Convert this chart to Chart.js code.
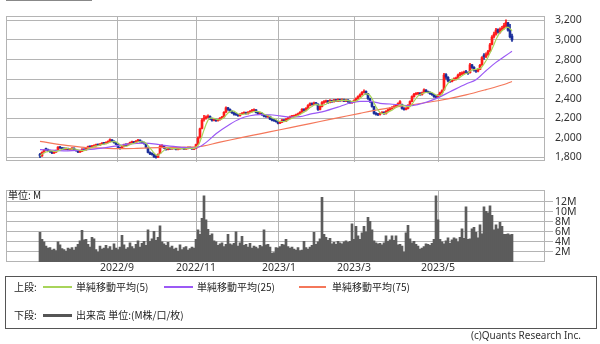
<!DOCTYPE html>
<html>
<head>
<meta charset="utf-8">
<script src="https://cdn.jsdelivr.net/npm/chart.js@4.4.0/dist/chart.umd.min.js"></script>
<style>
  body { margin: 0; width: 600px; height: 344px; overflow: hidden; position: relative; background: #fff;
         font-family: "Noto Sans CJK JP", "Noto Sans", sans-serif; color: #222; }
  canvas { position: absolute; left: 0; }
  #priceCanvas { top: 0; }
  #volCanvas { top: 182px; }
  .abs { position: absolute; white-space: nowrap; }
  #legendBox { position: absolute; left: 5px; top: 276px; width: 590px; height: 51px; border: 1px solid #555; }
  .sw { position: absolute; height: 2px; }
  .lt { position: absolute; font-size: 10px; line-height: 12px; }
</style>
</head>
<body>
<div class="abs" style="left:6px;top:0;width:86px;height:1px;background:#888"></div>
<canvas id="priceCanvas" width="600" height="178"></canvas>
<canvas id="volCanvas" width="600" height="96"></canvas>
<div class="abs" style="left:8px;top:189px;font-size:10px;line-height:12px">単位: M</div>

<div id="legendBox">
  <div class="lt" style="left:8px;top:4px">上段:</div>
  <div class="sw" style="left:37px;top:9px;width:29px;background:#a8d45a"></div>
  <div class="lt" style="left:70px;top:4px">単純移動平均(5)</div>
  <div class="sw" style="left:158px;top:9px;width:29px;background:#9b59f5"></div>
  <div class="lt" style="left:191px;top:4px">単純移動平均(25)</div>
  <div class="sw" style="left:293px;top:9px;width:27px;background:#f4775a"></div>
  <div class="lt" style="left:326px;top:4px">単純移動平均(75)</div>

  <div class="lt" style="left:8px;top:32px">下段:</div>
  <div class="sw" style="left:37px;top:37px;width:29px;height:3px;background:#555"></div>
  <div class="lt" style="left:70px;top:32px">出来高 単位:(M株/口/枚)</div>
</div>
<div class="abs" style="right:19px;top:329px;font-size:10px;line-height:12px;color:#333;font-family:'Noto Sans',sans-serif">(c)Quants Research Inc.</div>

<script>
// 日足 [始値, 高値, 安値, 終値]
const candles = [
  [1830,1840,1795,1815],[1815,1855,1810,1850],[1850,1880,1845,1875],[1885,1895,1870,1880],[1880,1885,1860,1870],[1870,1875,1850,1860],
  [1860,1862,1838,1845],[1842,1858,1840,1850],[1852,1875,1850,1870],[1875,1910,1872,1905],[1905,1912,1890,1895],[1895,1900,1882,1890],
  [1890,1898,1880,1885],[1882,1896,1878,1890],[1892,1895,1875,1880],[1878,1890,1872,1885],[1885,1900,1882,1895],[1895,1898,1875,1880],
  [1878,1882,1862,1870],[1868,1870,1848,1855],[1852,1868,1850,1860],[1860,1888,1858,1880],[1882,1886,1870,1875],[1875,1900,1872,1895],
  [1895,1915,1890,1910],[1912,1918,1900,1905],[1905,1922,1902,1915],[1912,1928,1908,1920],[1920,1935,1915,1930],[1932,1936,1920,1925],
  [1925,1940,1922,1935],[1935,1950,1930,1945],[1948,1952,1935,1940],[1940,1958,1938,1950],[1950,1968,1946,1960],[1962,1990,1958,1980],
  [1978,1982,1960,1965],[1965,1968,1945,1950],[1950,1952,1930,1935],[1930,1932,1895,1900],[1900,1905,1882,1890],[1890,1915,1888,1910],
  [1910,1935,1905,1930],[1932,1938,1920,1925],[1925,1940,1920,1935],[1935,1955,1932,1950],[1950,1966,1945,1960],[1960,1962,1940,1945],
  [1945,1970,1942,1965],[1965,1985,1960,1975],[1975,1978,1955,1960],[1962,1965,1945,1950],[1950,1955,1935,1940],[1935,1938,1895,1900],
  [1895,1898,1845,1850],[1850,1855,1828,1835],[1835,1845,1822,1830],[1830,1832,1798,1805],[1810,1820,1792,1800],[1800,1835,1798,1830],
  [1840,1925,1838,1910],[1910,1930,1902,1920],[1918,1920,1890,1895],[1895,1898,1872,1880],[1880,1895,1875,1890],[1892,1898,1880,1885],
  [1885,1900,1880,1895],[1895,1900,1885,1890],[1890,1893,1875,1880],[1878,1890,1875,1885],[1885,1900,1882,1895],[1896,1900,1885,1890],
  [1890,1894,1878,1885],[1882,1895,1880,1890],[1890,1906,1886,1900],[1902,1905,1890,1895],[1895,1898,1880,1885],[1880,1895,1878,1890],
  [1890,1935,1888,1930],[1935,2010,1930,2000],[2000,2100,1995,2090],[2095,2195,2090,2180],[2190,2230,2170,2200],[2200,2225,2190,2210],
  [2210,2235,2205,2220],[2220,2225,2185,2195],[2195,2200,2170,2180],[2178,2192,2172,2185],[2188,2190,2168,2175],[2175,2192,2170,2185],
  [2185,2205,2180,2200],[2200,2218,2195,2210],[2212,2268,2210,2260],[2262,2315,2258,2305],[2305,2310,2280,2290],[2290,2295,2262,2270],
  [2270,2275,2248,2255],[2255,2260,2232,2240],[2245,2252,2228,2235],[2235,2240,2218,2225],[2225,2248,2220,2240],[2240,2258,2235,2250],
  [2250,2265,2245,2255],[2258,2262,2240,2245],[2245,2268,2242,2260],[2260,2278,2255,2270],[2270,2290,2265,2280],[2278,2295,2272,2285],
  [2285,2288,2255,2260],[2260,2265,2238,2245],[2242,2258,2238,2250],[2250,2255,2228,2235],[2235,2240,2212,2220],[2222,2230,2208,2215],
  [2212,2228,2208,2220],[2220,2222,2185,2190],[2190,2195,2172,2180],[2182,2188,2168,2175],[2175,2180,2158,2165],[2165,2168,2142,2150],
  [2150,2168,2145,2160],[2160,2188,2155,2180],[2182,2186,2165,2170],[2170,2196,2165,2190],[2190,2208,2185,2200],[2200,2222,2195,2215],
  [2215,2228,2210,2220],[2220,2232,2215,2225],[2225,2242,2220,2235],[2235,2252,2230,2245],[2245,2268,2240,2260],[2262,2298,2258,2290],
  [2292,2296,2272,2280],[2280,2308,2275,2300],[2300,2338,2295,2330],[2330,2358,2325,2350],[2352,2356,2332,2340],[2340,2365,2335,2355],
  [2358,2362,2335,2345],[2345,2348,2280,2290],[2290,2328,2285,2320],[2320,2370,2315,2360],[2360,2380,2352,2370],[2368,2385,2362,2375],
  [2378,2382,2352,2360],[2360,2390,2355,2380],[2382,2386,2362,2370],[2370,2392,2365,2385],[2388,2392,2368,2375],[2375,2398,2370,2390],
  [2392,2396,2372,2380],[2380,2398,2375,2390],[2392,2395,2368,2375],[2375,2392,2370,2385],[2385,2390,2362,2370],[2372,2378,2352,2360],
  [2358,2372,2350,2365],[2365,2388,2360,2380],[2380,2408,2375,2400],[2400,2428,2395,2420],[2420,2448,2415,2440],[2440,2472,2435,2465],
  [2462,2490,2458,2475],[2475,2480,2442,2450],[2450,2455,2392,2400],[2400,2405,2362,2370],[2368,2372,2312,2320],[2318,2320,2240,2250],
  [2252,2258,2230,2240],[2245,2250,2225,2235],[2238,2258,2232,2250],[2250,2268,2245,2260],[2262,2265,2238,2245],[2245,2278,2240,2270],
  [2270,2292,2265,2285],[2285,2308,2280,2300],[2298,2318,2292,2310],[2310,2328,2305,2320],[2320,2338,2315,2330],[2330,2358,2325,2350],
  [2350,2380,2345,2370],[2340,2345,2292,2300],[2302,2308,2282,2290],[2290,2308,2285,2300],[2300,2338,2295,2330],[2330,2378,2325,2370],
  [2372,2428,2368,2420],[2420,2455,2415,2445],[2445,2462,2438,2450],[2448,2465,2442,2455],[2458,2462,2432,2440],[2440,2468,2435,2460],
  [2462,2500,2458,2490],[2488,2492,2462,2470],[2472,2478,2458,2465],[2465,2470,2442,2450],[2452,2458,2432,2440],[2440,2445,2412,2420],
  [2425,2432,2405,2415],[2415,2442,2410,2435],[2435,2468,2430,2460],[2460,2490,2455,2480],[2490,2660,2485,2640],[2645,2655,2600,2620],
  [2618,2625,2570,2580],[2585,2595,2565,2575],[2575,2598,2570,2590],[2590,2612,2585,2600],[2600,2620,2592,2610],[2610,2650,2605,2640],
  [2640,2668,2632,2655],[2650,2675,2645,2660],[2658,2682,2650,2670],[2675,2690,2655,2665],[2668,2675,2648,2660],[2665,2760,2660,2745],
  [2745,2752,2710,2720],[2720,2728,2680,2690],[2692,2700,2668,2680],[2680,2710,2672,2700],[2700,2752,2695,2740],[2745,2830,2740,2820],
  [2845,2860,2800,2830],[2830,2868,2820,2850],[2850,2895,2842,2880],[2885,2965,2878,2950],[2955,3045,2950,3030],[3035,3080,3020,3060],
  [3060,3120,3050,3100],[3105,3115,3070,3080],[3080,3125,3070,3110],[3110,3140,3095,3120],[3120,3170,3110,3150],[3140,3205,3130,3180],
  [3175,3180,3090,3100],[3100,3160,3020,3030],[3040,3060,2985,3000]
];

// 出来高 (M)
const volumes = [
  5.9,4.5,4.0,3.2,2.8,2.9,2.4,2.6,2.3,4.0,3.4,2.7,2.5,2.2,2.8,2.6,2.9,2.4,3.0,3.5,
  4.2,6.3,4.4,4.5,3.5,3.0,4.9,4.6,2.5,2.0,3.2,2.6,2.8,3.3,2.7,3.1,2.4,3.6,2.8,2.5,
  3.0,5.3,3.4,2.6,2.9,3.8,3.1,2.7,3.5,4.2,3.0,3.7,4.1,3.3,6.4,4.1,4.6,6.1,4.3,4.9,
  7.2,4.0,3.6,3.3,3.9,2.9,3.2,2.6,2.8,2.2,3.4,2.5,2.9,3.1,2.4,2.7,3.0,2.8,4.5,6.4,
  5.5,8.7,13.2,8.4,6.5,5.3,5.6,4.2,4.0,3.3,3.6,3.8,3.1,3.5,5.5,3.6,3.4,3.7,6.0,3.2,
  3.8,5.1,3.3,3.5,3.0,3.7,2.8,3.2,3.0,2.7,3.3,3.1,6.4,3.4,3.5,3.0,1.8,1.9,2.9,2.8,
  3.1,3.5,3.4,4.5,3.1,2.8,3.0,2.6,2.4,2.9,2.3,2.4,4.1,2.9,2.6,3.0,3.3,5.9,3.5,4.0,
  4.6,12.9,5.5,4.9,4.3,4.7,3.6,3.9,3.5,4.1,3.8,3.6,4.0,4.2,3.9,4.1,7.6,4.5,7.1,5.2,
  4.5,5.8,7.1,6.0,8.9,8.1,6.4,4.2,3.8,3.6,3.7,3.4,3.8,5.2,4.1,4.4,5.2,4.3,5.2,3.4,
  3.5,3.2,2.0,5.8,7.3,4.6,3.8,4.1,3.5,3.2,2.6,2.8,3.1,3.6,3.5,3.3,3.7,4.5,13.2,8.4,
  4.5,4.0,3.6,4.2,4.8,3.7,4.4,4.8,4.6,4.0,4.9,6.6,4.7,11.0,4.5,4.6,6.6,6.9,5.9,4.8,
  7.4,5.6,11.0,10.1,9.8,11.2,9.3,6.4,7.4,6.6,7.9,7.1,5.5,5.5,5.6,5.4,5.5
];

// 移動平均 (25日・75日) [日番号, 値]
const ma25 = [
  [0,1878],[8,1870],[14,1866],[20,1872],[25,1880],[31,1893],[39,1920],[45,1938],[52,1944],[58,1935],[62,1922],
  [70,1905],[77,1893],[80,1910],[84,1968],[88,2040],[95,2138],[100,2194],[105,2225],[110,2237],[115,2235],
  [120,2224],[125,2212],[130,2215],[135,2242],[141,2265],[150,2320],[155,2355],[160,2372],[165,2372],[170,2352],
  [175,2345],[180,2335],[185,2327],[191,2350],[198,2400],[205,2470],[213,2550],[218,2594],[223,2685],[228,2771],
  [232,2828],[236,2884]
];
const ma75 = [
  [0,1962],[14,1920],[22,1902],[31,1895],[39,1888],[47,1890],[63,1902],[78,1906],[90,1955],[100,1998],[110,2040],
  [120,2082],[130,2124],[140,2166],[150,2208],[160,2250],[171,2293],[185,2335],[199,2378],[213,2438],[223,2492],
  [232,2545],[236,2575]
];

const priceTicks = [1800, 2000, 2200, 2400, 2600, 2800, 3000, 3200];
const volTicks = [2, 4, 6, 8, 10, 12];
const monthLabels = ['2022/9', '2022/11', '2023/1', '2023/3', '2023/5'];
const monthPos = [38.5, 78, 119.5, 157, 199];

const UP = '#ff1a1a';
const DOWN = '#1a2e9a';
const GRID = '#b4b4b4';
const AXIS_FONT = { family: 'Noto Sans', size: 10.5 };

// 5日移動平均は終値から
const closes = candles.map(c => c[3]);
const ma5 = closes.map((v, i) => {
  const s = closes.slice(Math.max(0, i - 4), i + 1);
  return s.reduce((a, b) => a + b, 0) / s.length;
});
const candleColor = candles.map(c => c[3] >= c[0] ? UP : DOWN);

// 枠線
const framePlugin = {
  id: 'frame',
  beforeDatasetsDraw(chart) {
    const a = chart.chartArea, ctx = chart.ctx;
    ctx.save();
    ctx.strokeStyle = GRID;
    ctx.lineWidth = 1;
    ctx.strokeRect(Math.round(a.left) + 0.5, Math.round(a.top) + 0.5,
                   Math.round(a.right - a.left) - 1, Math.round(a.bottom - a.top) - 1);
    ctx.restore();
  }
};

function xScale(showLabels) {
  return {
    type: 'linear', min: -17, max: 252.5, offset: false,
    afterBuildTicks: s => { s.ticks = monthPos.map(v => ({ value: v })); },
    ticks: {
      display: showLabels, autoSkip: false, maxRotation: 0, padding: 0,
      color: '#333', font: AXIS_FONT,
      callback: (v, i) => monthLabels[i]
    },
    grid: { color: GRID, drawTicks: false, offset: false },
    border: { display: false },
    afterFit: s => { s.height = showLabels ? 16 : 0; }
  };
}

new Chart(document.getElementById('priceCanvas'), {
  type: 'bar',
  data: {
    datasets: [
      { type: 'line', data: ma5.map((v, i) => ({ x: i, y: v })), borderColor: '#a8d45a', borderWidth: 1.2, pointRadius: 0, order: 1 },
      { type: 'line', data: ma25.map(p => ({ x: p[0], y: p[1] })), borderColor: '#9b59f5', borderWidth: 1.2, pointRadius: 0, cubicInterpolationMode: 'monotone', order: 1 },
      { type: 'line', data: ma75.map(p => ({ x: p[0], y: p[1] })), borderColor: '#f4775a', borderWidth: 1.2, pointRadius: 0, cubicInterpolationMode: 'monotone', order: 1 },
      { data: candles.map((c, i) => ({ x: i, y: [c[2], c[1]] })), backgroundColor: candleColor, barThickness: 1, grouped: false, order: 3 },
      { data: candles.map((c, i) => ({ x: i, y: [c[0], c[3]] })), backgroundColor: candleColor, barThickness: 2, minBarLength: 1, grouped: false, order: 2 }
    ]
  },
  options: {
    responsive: false,
    animation: false,
    layout: { padding: { left: 6, top: 1, bottom: 1, right: 0 } },
    plugins: { legend: { display: false }, tooltip: { enabled: false } },
    scales: {
      x: xScale(false),
      y: {
        position: 'right', min: 1755, max: 3242,
        afterBuildTicks: s => { s.ticks = priceTicks.map(v => ({ value: v })); },
        ticks: { autoSkip: false, padding: 10, color: '#333', font: AXIS_FONT, callback: v => v.toLocaleString('en-US') },
        grid: { color: GRID, drawTicks: false },
        border: { display: false },
        afterFit: s => { s.width = 55; }
      }
    }
  },
  plugins: [framePlugin]
});

new Chart(document.getElementById('volCanvas'), {
  type: 'bar',
  data: {
    datasets: [
      { data: volumes.map((v, i) => ({ x: i, y: v })), backgroundColor: '#5c5c5c', barThickness: 2 }
    ]
  },
  options: {
    responsive: false,
    animation: false,
    layout: { padding: { left: 6, top: 6, bottom: 0, right: 0 } },
    plugins: { legend: { display: false }, tooltip: { enabled: false } },
    scales: {
      x: xScale(true),
      y: {
        position: 'right', min: 0, max: 14.3,
        afterBuildTicks: s => { s.ticks = volTicks.map(v => ({ value: v })); },
        ticks: { autoSkip: false, padding: 2, color: '#333', font: AXIS_FONT, callback: v => v + 'M' },
        grid: { color: GRID, drawTicks: true, tickLength: 8 },
        border: { display: false },
        afterFit: s => { s.width = 55; }
      }
    }
  },
  plugins: [framePlugin]
});
</script>
</body>
</html>
